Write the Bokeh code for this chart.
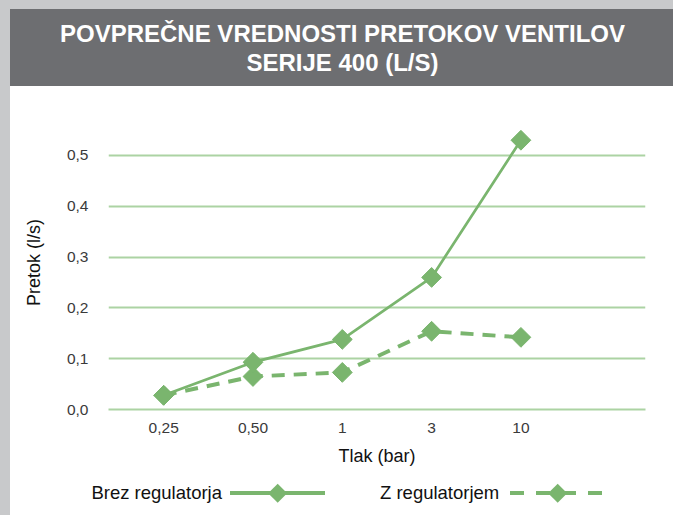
from bokeh.plotting import figure
from bokeh.layouts import column, row
from bokeh.models import Range1d, FixedTicker, CustomJSTickFormatter, Div
from bokeh.embed import file_html
from bokeh.resources import INLINE

# ---- data ----
categories = ["0,25", "0,50", "1", "3", "10"]
brez_regulatorja = [0.028, 0.093, 0.138, 0.260, 0.530]
z_regulatorjem = [0.028, 0.065, 0.073, 0.154, 0.142]
y_ticks = [0.0, 0.1, 0.2, 0.3, 0.4, 0.5]
title_lines = ["POVPREČNE VREDNOSTI PRETOKOV VENTILOV", "SERIJE 400 (L/S)"]
series_names = ["Brez regulatorja", "Z regulatorjem"]

GREEN = "#7ab56e"
GRID = "#acd3a3"
HEADER = "#6d6e71"
LIGHT = "#c8c9cb"
FONT = "Liberation Sans"

# ---- header (HTML) ----
header_html = (
    f'<div style="width:673px;height:86px;background:{LIGHT};padding:9px 0 0 10px;'
    f'box-sizing:border-box;">'
    f'<div style="width:663px;height:77px;background:{HEADER};color:white;'
    f"font-family:'{FONT}';font-weight:bold;font-size:24px;line-height:29px;"
    f'display:flex;flex-direction:column;justify-content:center;align-items:center;'
    f'padding-left:2px;box-sizing:border-box;">'
    + "".join(f"<div>{t}</div>" for t in title_lines)
    + "</div></div>"
)
header = Div(text=header_html, width=673, height=86, margin=0)
strip = Div(text="", width=10, height=429, margin=0,
            styles={"background-color": LIGHT})

# ---- main chart ----
xs = list(range(len(categories)))
p = figure(width=663, height=384, output_backend="svg", toolbar_location=None,
           x_range=Range1d(-0.618, 5.395), y_range=Range1d(0, 0.5787),
           min_border_left=98, min_border_right=28, min_border_top=29,
           min_border_bottom=61)
p.outline_line_color = None
p.xgrid.visible = False
p.ygrid.grid_line_color = GRID
p.ygrid.grid_line_width = 2
p.ygrid.ticker = FixedTicker(ticks=y_ticks)

p.yaxis.ticker = FixedTicker(ticks=y_ticks)
p.yaxis.formatter = CustomJSTickFormatter(code="return tick.toFixed(1).replace('.', ',');")
p.yaxis.axis_line_color = None
p.yaxis.major_tick_line_color = None
p.yaxis.minor_tick_line_color = None
p.yaxis.major_label_standoff = 14
p.yaxis.axis_label = "Pretok (l/s)"
p.yaxis.axis_label_standoff = 20

p.xaxis.ticker = FixedTicker(ticks=xs)
p.xaxis.major_label_overrides = {i: c for i, c in enumerate(categories)}
p.xaxis.axis_line_color = GRID
p.xaxis.axis_line_width = 2
p.xaxis.major_tick_line_color = None
p.xaxis.minor_tick_line_color = None
p.xaxis.major_label_standoff = 7
p.xaxis.axis_label = "Tlak (bar)"
p.xaxis.axis_label_standoff = 10

for ax in (p.xaxis, p.yaxis):
    ax.major_label_text_font = FONT
    ax.major_label_text_font_size = "15.5px"
    ax.major_label_text_color = "#3a3a3a"
    ax.axis_label_text_font = FONT
    ax.axis_label_text_font_size = "18px"
    ax.axis_label_text_font_style = "normal"
    ax.axis_label_text_color = "#111111"

p.line(xs, z_regulatorjem, line_color=GREEN, line_width=4, line_dash="13 9")
p.scatter(xs, z_regulatorjem, marker="square", angle=0.785, size=14,
          fill_color=GREEN, line_color=GREEN)
p.line(xs, brez_regulatorja, line_color=GREEN, line_width=2.7)
p.scatter(xs, brez_regulatorja, marker="square", angle=0.785, size=14,
          fill_color=GREEN, line_color=GREEN)

# ---- legend (HTML, text to the left of each sample as in the reference) ----
def sample(dash):
    d = f' stroke-dasharray="{dash}"' if dash else ""
    return (
        f'<svg width="95" height="24" style="display:block">'
        f'<line x1="0" y1="12" x2="95" y2="12" stroke="{GREEN}" stroke-width="4"{d}/>'
        f'<rect x="41" y="5.25" width="13.5" height="13.5" fill="{GREEN}" '
        f'transform="rotate(45 47.5 12)"/></svg>'
    )

legend_html = (
    f'<div style="position:relative;width:663px;height:45px;'
    f"font-family:'{FONT}';font-size:18.5px;color:#111111;\">"
    f'<div style="position:absolute;right:451px;top:12px;line-height:22px;white-space:nowrap">{series_names[0]}</div>'
    f'<div style="position:absolute;left:220px;top:11px">{sample("")}</div>'
    f'<div style="position:absolute;left:370px;top:12px;line-height:22px;white-space:nowrap">{series_names[1]}</div>'
    f'<div style="position:absolute;left:500px;top:11px">{sample("14 12")}</div>'
    f'</div>'
)
legend = Div(text=legend_html, width=663, height=45, margin=0)

layout = column(header, row(strip, column(p, legend, spacing=0), spacing=0), spacing=0)
open("out.html", "w").write(file_html(layout, INLINE))
